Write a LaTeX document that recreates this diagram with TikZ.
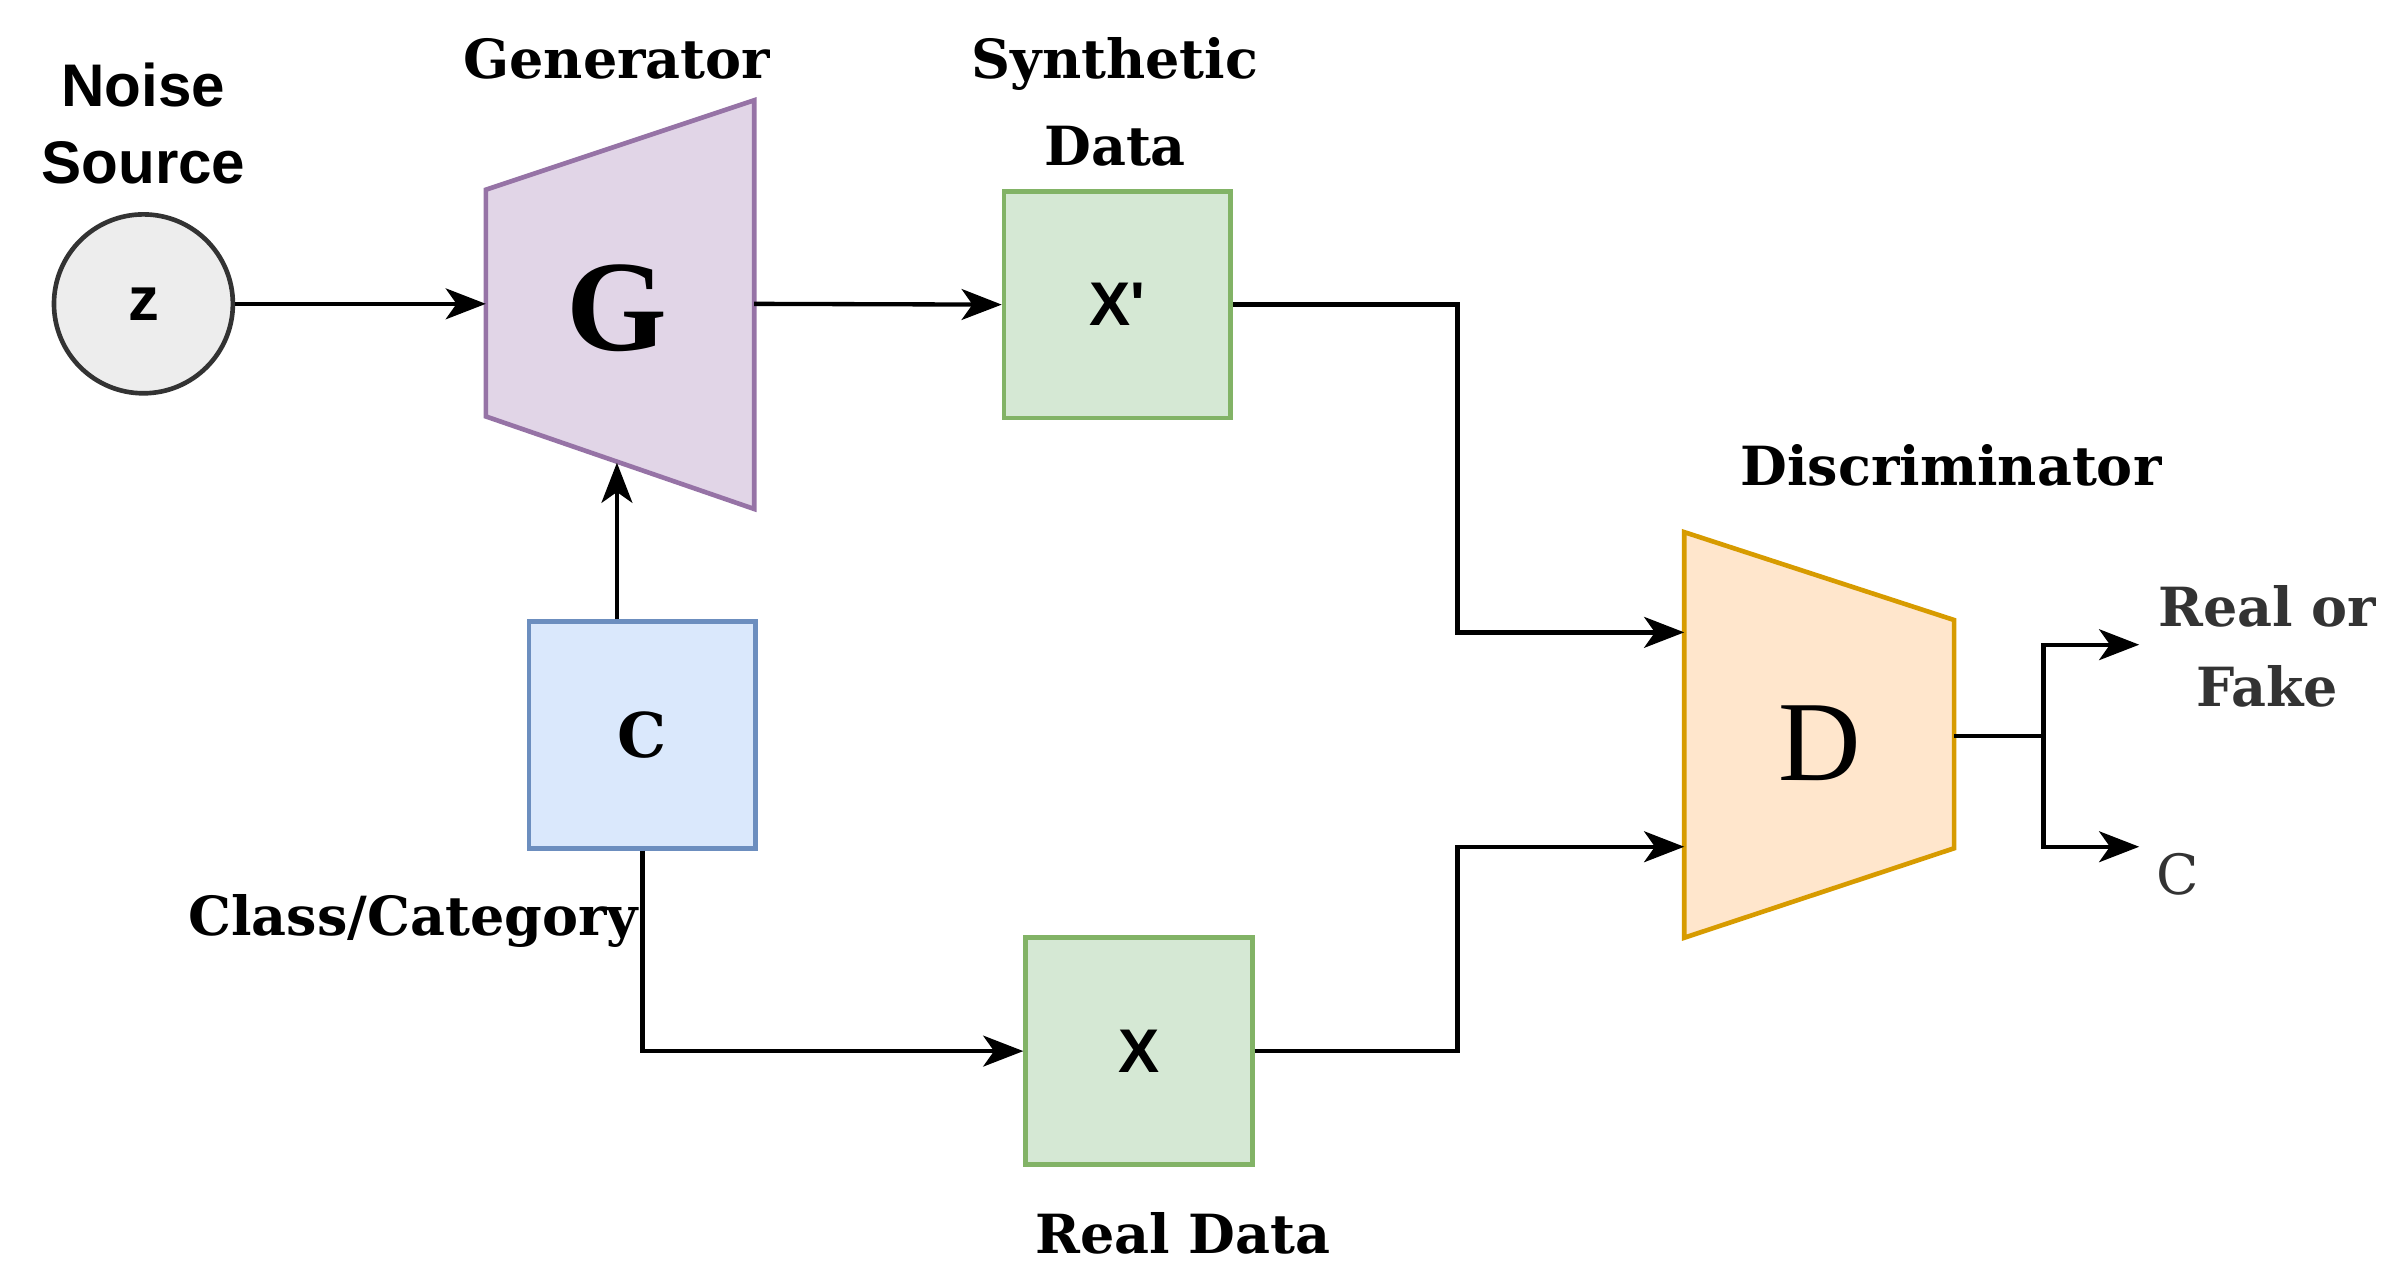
\documentclass[tikz,border=0pt]{standalone}
\usepackage{fontspec}
\setmainfont{DejaVu Serif}
\newfontfamily\sansf{Liberation Sans}
\newfontfamily\tnr{Liberation Serif}
\usetikzlibrary{arrows.meta}
\definecolor{gfill}{HTML}{E1D5E7}\definecolor{gline}{HTML}{9673A6}
\definecolor{xfill}{HTML}{D5E8D4}\definecolor{xline}{HTML}{82B366}
\definecolor{cfill}{HTML}{DAE8FC}\definecolor{cline}{HTML}{6C8EBF}
\definecolor{dfill}{HTML}{FFE6CC}\definecolor{dline}{HTML}{D79B00}
\begin{document}
\begin{tikzpicture}[x=1pt,y=-1pt,line width=3pt,
  lbl/.style={font=\fontsize{35}{40}\selectfont\bfseries,align=center},
  box/.style={draw,minimum width=147pt,minimum height=147pt,inner sep=0pt},
  arr/.style={-{Stealth[length=26pt,width=20pt,inset=7pt]},line width=2.8pt,line join=miter}]
\useasboundingbox (0,0) rectangle (1560,823);
% noise
\node[circle,draw=black!80,fill=black!7,minimum size=116pt,inner sep=0pt,font=\sansf\fontsize{40}{40}\selectfont\bfseries] (z) at (93,197) {z};
\node[align=center,font=\sansf\fontsize{39}{50}\selectfont\bfseries] (ns) at (93,80) {Noise\\Source};
% G
\draw[draw=gline,fill=gfill] (315,123) -- (489,65) -- (489,330) -- (315,270) -- cycle;
\coordinate (gl) at (315,197); \coordinate (gr) at (489,197); \coordinate (gb) at (400,300);
\node[font=\tnr\fontsize{84}{84}\selectfont\bfseries] (g) at (400,200) {G};
\node[lbl] (gen) at (400,38) {Generator};
% X'
\node[box,draw=xline,fill=xfill,font=\sansf\fontsize{40}{40}\selectfont\bfseries] (xp) at (724.5,197.5) {X'};
\node[lbl,font=\fontsize{35}{56}\selectfont\bfseries] (syn) at (723,66) {Synthetic\\Data};
% C
\node[box,draw=cline,fill=cfill,font=\fontsize{40}{40}\selectfont\bfseries] (c) at (416.5,476.5) {C};
\node[lbl] (cc) at (268,597) {Class/Category};
% X
\node[box,draw=xline,fill=xfill,font=\sansf\fontsize{40}{40}\selectfont\bfseries] (x) at (738.5,681.5) {X};
\node[lbl] (rd) at (767,800) {Real Data};
% D
\draw[draw=dline,fill=dfill] (1092,345) -- (1267,402) -- (1267,550) -- (1092,608) -- cycle;
\coordinate (d1) at (1092,410); \coordinate (d2) at (1092,549); \coordinate (dr) at (1267,477);
\node[font=\tnr\fontsize{74}{74}\selectfont] (d) at (1180,482) {D};
\node[lbl] (disc) at (1265,302) {Discriminator};
% outputs
\coordinate (br) at (1325,477);
\coordinate (o1) at (1387,418); \coordinate (o2) at (1387,549);
\node[lbl,text=black!80,font=\fontsize{35}{52}\selectfont\bfseries] (rf) at (1470,419) {Real or\\Fake};
\node[font=\fontsize{36}{36}\selectfont,text=black!80] (oc) at (1412,567) {C};
% connectors
\draw[arr] (z.east) -- (gl);
\draw[arr] (gr) -- (xp.west);
\draw[arr] (xp.east) -| (945,300) |- (d1);
\draw[arr] (x.east) -| (945,600) |- (d2);
\draw[arr] (c.north -| gb) -- (gb);
\draw[arr] (c.south) |- (x.west);
\draw[line width=2.8pt] (dr) -- (br);
\draw[arr] (br) |- (o1);
\draw[arr] (br) |- (o2);
\end{tikzpicture}
\end{document}
